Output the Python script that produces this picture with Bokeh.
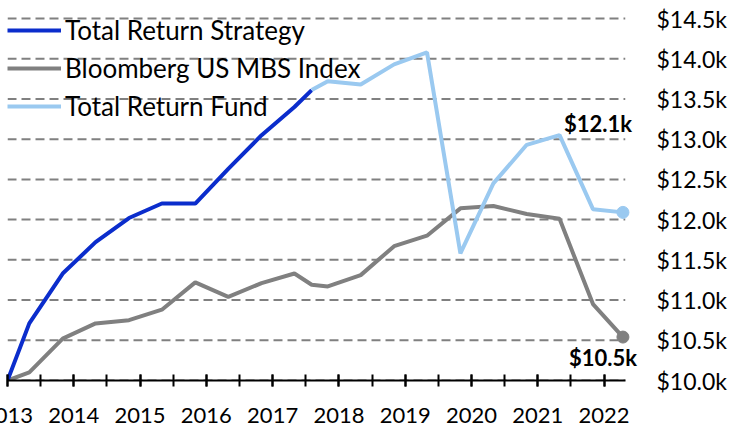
import pandas as pd
from bokeh.plotting import figure
from bokeh.models import Range1d, SingleIntervalTicker, FixedTicker, Legend, LegendItem, Label
from bokeh.embed import file_html
from bokeh.resources import INLINE

# ---- data (values in $ thousands, growth of $10k) ----
dates = ["2013-01-01", "2013-05-01", "2013-11-01", "2014-05-01", "2014-11-01",
         "2015-05-01", "2015-11-01", "2016-05-01", "2016-11-01", "2017-05-01",
         "2017-08-04", "2017-11-01", "2018-05-01", "2018-11-01", "2019-05-01",
         "2019-11-01", "2020-05-01", "2020-11-01", "2021-05-01", "2021-11-01",
         "2022-04-15"]
strategy_vals = [10.00, 10.71, 11.33, 11.72, 12.02, 12.20, 12.20, 12.63, 13.05, 13.40, 13.61]
fund_vals = [13.61, 13.72, 13.68, 13.93, 14.08, 11.58, 12.45, 12.93, 13.05, 12.13, 12.09]
index_vals = [10.00, 10.10, 10.52, 10.71, 10.75, 10.88, 11.22, 11.04, 11.21, 11.33, 11.19,
              11.17, 11.31, 11.67, 11.80, 12.14, 12.17, 12.07, 12.01, 10.95, 10.54]
series_names = ["Total Return Strategy", "Bloomberg US MBS Index", "Total Return Fund"]
y_ticks = [10.0, 10.5, 11.0, 11.5, 12.0, 12.5, 13.0, 13.5, 14.0, 14.5]
y_tick_labels = ["$10.0k", "$10.5k", "$11.0k", "$11.5k", "$12.0k", "$12.5k",
                 "$13.0k", "$13.5k", "$14.0k", "$14.5k"]


def frac_year(d):
    ts = pd.Timestamp(d)
    start = pd.Timestamp(year=ts.year, month=1, day=1)
    days = 366 if ts.is_leap_year else 365
    return ts.year + (ts - start).days / days


xs = [frac_year(d) for d in dates]
n_strat = len(strategy_vals)
xs_strat = xs[:n_strat]
xs_fund = xs[n_strat - 1:]

FONT = "Lato"
BLUE = "#0b2dcc"
LIGHT = "#9ac9f0"
GRAY = "#808080"
AXIS_END = 2022.32   # where the x axis line and grid lines stop
SHIFT = 19           # canvas starts this far left of the page edge (first year label is cut, as in the original)

p = figure(width=729 + SHIFT, height=430, output_backend="svg", toolbar_location=None,
           x_range=Range1d(xs[0], 2022.55), y_range=Range1d(y_ticks[0], y_ticks[-1] + 0.05),
           y_axis_location="right", min_border_left=7 + SHIFT, min_border_top=14,
           min_border_bottom=50, min_border_right=84)
p.styles = {"margin-left": f"-{SHIFT}px"}
p.outline_line_color = None
p.background_fill_color = "white"
p.border_fill_color = "white"

# grid (drawn as segments so it stops where the axis line stops)
p.xgrid.visible = False
p.ygrid.visible = False
p.segment(x0=[xs[0]] * len(y_ticks), x1=[AXIS_END] * len(y_ticks), y0=y_ticks, y1=y_ticks,
          line_color=GRAY, line_width=2, line_dash="9 5")

# x axis
xa = p.xaxis[0]
xa.ticker = SingleIntervalTicker(interval=1, num_minor_ticks=2)
xa.bounds = (xs[0], AXIS_END)
xa.axis_line_color = "black"
xa.axis_line_width = 2
xa.major_tick_line_color = "black"
xa.minor_tick_line_color = "black"
xa.major_tick_line_width = 2
xa.minor_tick_line_width = 2
xa.major_tick_in = 6
xa.major_tick_out = 6
xa.minor_tick_in = 6
xa.minor_tick_out = 6
xa.major_label_standoff = 21
xa.major_label_text_font = FONT
xa.major_label_text_font_size = "22px"
xa.major_label_text_color = "black"

# y axis (right)
ya = p.yaxis[0]
ya.ticker = FixedTicker(ticks=y_ticks)
ya.major_label_overrides = {t: l for t, l in zip(y_ticks, y_tick_labels)}
ya.axis_line_color = None
ya.major_tick_line_color = None
ya.minor_tick_line_color = None
ya.major_label_standoff = 10
ya.major_label_text_font = FONT
ya.major_label_text_font_size = "23px"
ya.major_label_text_color = "black"

# lines
r_idx = p.line(xs, index_vals, line_color=GRAY, line_width=4)
r_str = p.line(xs_strat, strategy_vals, line_color=BLUE, line_width=4)
r_fund = p.line(xs_fund, fund_vals, line_color=LIGHT, line_width=4)

# end markers
p.scatter([xs[-1]], [index_vals[-1]], size=12, fill_color=GRAY, line_color=GRAY)
p.scatter([xs[-1]], [fund_vals[-1]], size=12, fill_color=LIGHT, line_color=LIGHT)

# end labels
p.add_layout(Label(x=xs[-1], y=fund_vals[-1], text=f"${fund_vals[-1]:.1f}k",
                   text_font=FONT, text_font_style="bold", text_font_size="22px",
                   text_align="right", text_baseline="middle", text_color="black",
                   x_offset=9, y_offset=89))
p.add_layout(Label(x=xs[-1], y=index_vals[-1], text=f"${index_vals[-1]:.1f}k",
                   text_font=FONT, text_font_style="bold", text_font_size="22px",
                   text_align="right", text_baseline="middle", text_color="black",
                   x_offset=14, y_offset=-20))

legend = Legend(items=[LegendItem(label=series_names[0], renderers=[r_str]),
                       LegendItem(label=series_names[1], renderers=[r_idx]),
                       LegendItem(label=series_names[2], renderers=[r_fund])],
                location="top_left", orientation="vertical")
legend.background_fill_alpha = 0
legend.border_line_alpha = 0
legend.margin = 0
legend.padding = 0
legend.spacing = 6
legend.glyph_width = 54
legend.glyph_height = 30
legend.label_height = 30
legend.label_standoff = 4
legend.label_text_font = FONT
legend.label_text_font_size = "26px"
legend.label_text_color = "black"
p.add_layout(legend)

open("out.html", "w").write(file_html(p, INLINE))
